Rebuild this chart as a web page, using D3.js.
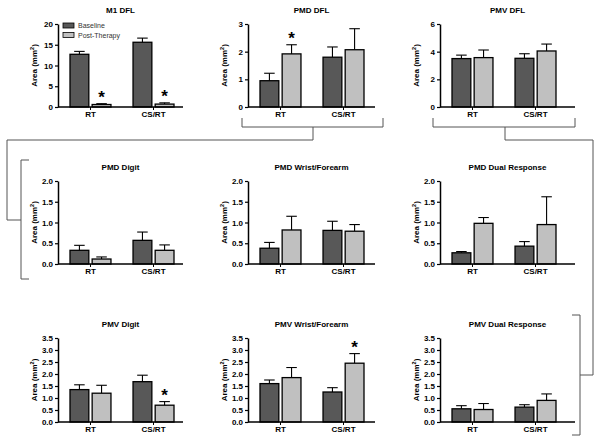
<!DOCTYPE html>
<html><head><meta charset="utf-8">
<script src="https://cdn.jsdelivr.net/npm/d3@7"></script>
<style>body{margin:0;background:#fff;}svg{display:block;font-family:"Liberation Sans",Arial,sans-serif;}</style>
</head><body>
<svg id="c" width="600" height="441"></svg>
<script>
const titles = ["M1 DFL","PMD DFL","PMV DFL","PMD Digit","PMD Wrist/Forearm","PMD Dual Response","PMV Digit","PMV Wrist/Forearm","PMV Dual Response"];
const categories = ["RT","CS/RT"];
const seriesNames = ["Baseline","Post-Therapy"];
const baselineMean = [[12.7,15.6],[0.95,1.8],[3.5,3.52],[0.33,0.57],[0.38,0.81],[0.27,0.43],[1.35,1.68],[1.6,1.25],[0.55,0.62]];
const baselineSem  = [[0.7,1.0],[0.27,0.37],[0.25,0.33],[0.12,0.2],[0.14,0.22],[0.03,0.11],[0.2,0.27],[0.15,0.18],[0.13,0.1]];
const postMean = [[0.6,0.7],[1.92,2.07],[3.57,4.05],[0.12,0.33],[0.82,0.79],[0.98,0.95],[1.2,0.7],[1.85,2.45],[0.52,0.9]];
const postSem  = [[0.2,0.3],[0.33,0.76],[0.55,0.5],[0.05,0.13],[0.33,0.16],[0.14,0.67],[0.33,0.15],[0.42,0.4],[0.25,0.27]];
const yMax = [20,3,6,2,2,2,3.5,3.5,3.5];
const yTicks = [[0,5,10,15,20],[0,1,2,3],[0,2,4,6],[0,0.5,1,1.5,2],[0,0.5,1,1.5,2],[0,0.5,1,1.5,2],[0,0.5,1,1.5,2,2.5,3,3.5],[0,0.5,1,1.5,2,2.5,3,3.5],[0,0.5,1,1.5,2,2.5,3,3.5]];
const tickFormats = ["d","d","d",".1f",".1f",".1f",".1f",".1f",".1f"];
// significance markers: [panel, category index] on Post-Therapy bar
const stars = [[0,0],[0,1],[1,0],[6,1],[7,1]];

// layout
const colX = [58,248,440], colEnd = [183,375,575];
const rowTop = [24,181,338], rowBot = [107,264,422];
const colors = ["#585858","#c0c0c0"];

const svg = d3.select("#c");

titles.forEach((t,i)=>{
  const c = i%3, r = Math.floor(i/3);
  const x0 = colX[c], x1 = colEnd[c], yt = rowTop[r], yb = rowBot[r];
  const g = svg.append("g");
  const y = d3.scaleLinear().domain([0,yMax[i]]).range([yb,yt]);
  const xb = d3.scaleBand().domain(categories).range([x0+12,x0+116]).paddingInner(0.35);
  const xs = d3.scaleBand().domain(seriesNames).range([0,xb.bandwidth()]).paddingInner(0.15);

  // title
  g.append("text").attr("x",(x0+x1)/2).attr("y",yt-11).attr("text-anchor","middle")
    .attr("font-size",8).attr("font-weight","bold").text(t);

  // bars
  const rows = [];
  categories.forEach((cat,k)=>{
    rows.push({cat,s:0,m:baselineMean[i][k],e:baselineSem[i][k],k});
    rows.push({cat,s:1,m:postMean[i][k],e:postSem[i][k],k});
  });
  rows.forEach(d=>{
    const bx = xb(d.cat)+xs(seriesNames[d.s]), bw = xs.bandwidth();
    const cx = bx+bw/2;
    g.append("line").attr("x1",cx).attr("x2",cx).attr("y1",y(d.m)).attr("y2",y(d.m+d.e)).attr("stroke","#000").attr("stroke-width",1.1);
    g.append("line").attr("x1",cx-bw*0.28).attr("x2",cx+bw*0.28).attr("y1",y(d.m+d.e)).attr("y2",y(d.m+d.e)).attr("stroke","#000").attr("stroke-width",1.1);
    g.append("rect").attr("x",bx).attr("y",y(d.m)).attr("width",bw).attr("height",yb-y(d.m))
      .attr("fill",colors[d.s]).attr("stroke","#000").attr("stroke-width",1.3);
    if(d.s===1 && stars.some(s=>s[0]===i&&s[1]===d.k)){
      g.append("text").attr("x",cx).attr("y",y(d.m+d.e)-1).attr("text-anchor","middle")
        .attr("font-size",17).attr("font-weight","bold").text("*");
    }
  });

  // y axis
  const ya = g.append("g").attr("transform",`translate(${x0},0)`)
    .call(d3.axisLeft(y).tickValues(yTicks[i]).tickFormat(d3.format(tickFormats[i])).tickSize(3).tickSizeOuter(0));
  ya.select(".domain").attr("stroke-width",1.5);
  ya.selectAll(".tick line").attr("stroke-width",1.2);
  ya.selectAll("text").attr("font-size",8).attr("font-weight","bold").attr("font-family","Liberation Sans, Arial, sans-serif").attr("dx",1);

  // x axis
  const xaScale = d3.scaleBand().domain(categories).range(xb.range()).paddingInner(0.35);
  const xa = g.append("g").attr("transform",`translate(0,${yb})`)
    .call(d3.axisBottom(xaScale).tickSize(3).tickSizeOuter(0));
  xa.select(".domain").attr("d",`M${x0},0H${x1}`).attr("stroke-width",1.5);
  xa.selectAll("text").attr("font-size",8).attr("font-weight","bold").attr("font-family","Liberation Sans, Arial, sans-serif").attr("dy","0.45em");

  // y label
  const lab = g.append("text").attr("transform",`translate(${x0-21},${(yt+yb)/2}) rotate(-90)`)
    .attr("text-anchor","middle").attr("font-size",8).attr("font-weight","bold");
  lab.append("tspan").text("Area (mm");
  lab.append("tspan").attr("dy",-3).attr("font-size",5.5).text("2");
  lab.append("tspan").attr("dy",3).text(")");

  // legend in first panel
  if(i===0){
    seriesNames.forEach((s,j)=>{
      g.append("rect").attr("x",x0+5).attr("y",yt-1+j*9.5).attr("width",11).attr("height",5)
        .attr("fill",colors[j]).attr("stroke","#000").attr("stroke-width",0.8);
      g.append("text").attr("x",x0+20).attr("y",yt+4+j*9.5).attr("font-size",7).attr("fill","#333").text(s);
    });
  }
});

// connector brackets
const conn = svg.append("g").attr("fill","none").attr("stroke","#555").attr("stroke-width",1);
conn.append("path").attr("d","M242,118V127H383V118 M313,127V140H7V220H21 M29,160H21V279H29");
conn.append("path").attr("d","M433,118V127H575V118 M505,127V140H593V375H580 M572,315H580V435H572");
</script>
</body></html>
